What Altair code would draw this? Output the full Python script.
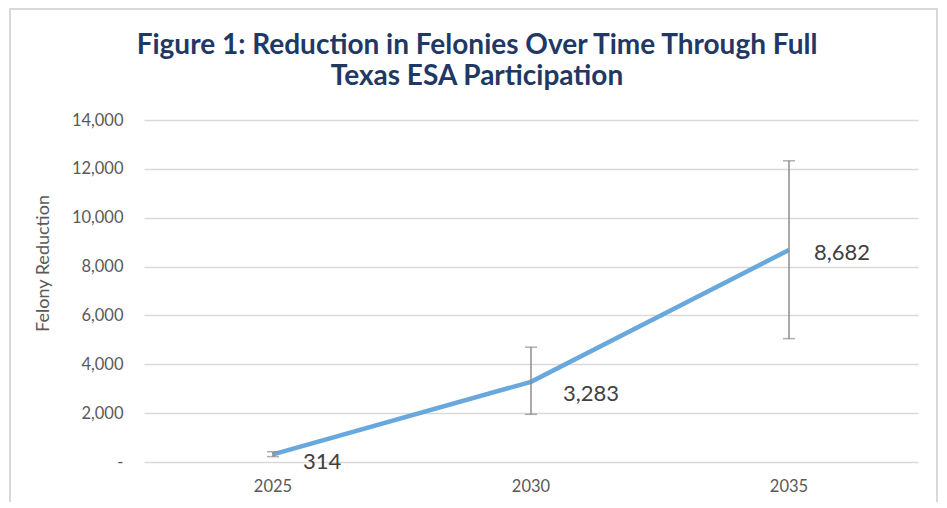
import altair as alt
import pandas as pd

years = ["2025", "2030", "2035"]
reduction = [314, 3283, 8682]
err_low = [220, 1950, 5050]
err_high = [420, 4700, 12330]
label_text = ["314", "3,283", "8,682"]

df = pd.DataFrame({
    "year": years,
    "value": reduction,
    "lo": err_low,
    "hi": err_high,
    "label": label_text,
})

W, H = 774, 342

x = alt.X("year:N", title=None, sort=years,
          scale=alt.Scale(paddingInner=0, paddingOuter=0),
          axis=alt.Axis(labelAngle=0, ticks=False, domain=False, grid=False,
                        labelPadding=16, labelFontSize=16.5, labelColor="#595959",
                        labelFont="Lato"))
yscale = alt.Scale(domain=[0, 14000], nice=False)

base = alt.Chart(df)

grid = base.mark_line(opacity=0).encode(
    x=x,
    y=alt.Y("value:Q", scale=yscale, title="Felony Reduction",
            axis=alt.Axis(values=list(range(0, 14001, 2000)),
                          labelExpr="datum.value == 0 ? '-' : format(datum.value, ',')",
                          ticks=False, domain=False, grid=True,
                          gridColor="#D9D9D9", gridWidth=1.5,
                          labelPadding=21, labelFontSize=16.5, labelColor="#595959",
                          labelFont="Lato",
                          titleFont="Lato", titleFontSize=18,
                          titleFontWeight="normal", titleColor="#595959",
                          titleAngle=-90, titleX=-101, titleY=143,
                          titleAlign="center", titleBaseline="middle")),
)

line = base.mark_line(color="#68A8DD", strokeWidth=4.5).encode(
    x=x, y=alt.Y("value:Q", scale=yscale)
)

rule = base.mark_rule(color="#8C8C8C", strokeWidth=1.5).encode(
    x=x, y=alt.Y("lo:Q", scale=yscale), y2="hi:Q"
)
cap_lo = base.mark_tick(color="#8C8C8C", thickness=1.5, size=12, orient="horizontal").encode(
    x=x, y=alt.Y("lo:Q", scale=yscale)
)
cap_hi = base.mark_tick(color="#8C8C8C", thickness=1.5, size=12, orient="horizontal").encode(
    x=x, y=alt.Y("hi:Q", scale=yscale)
)

label_offsets = {"2025": (30, 8), "2030": (32, 12), "2035": (25, 3)}
label_layers = []
for yr, (ddx, ddy) in label_offsets.items():
    label_layers.append(
        base.transform_filter(alt.datum.year == yr).mark_text(
            align="left", baseline="middle", dx=ddx, dy=ddy,
            font="Lato", fontSize=22, color="#404040"
        ).encode(x=x, y=alt.Y("value:Q", scale=yscale), text="label:N")
    )

frame = alt.Chart(pd.DataFrame({"a": [0]})).mark_rect(
    fill=None, stroke="#D9D9D9", strokeWidth=2, clip=False
).encode(
    x=alt.value(-134), x2=alt.value(793), y=alt.value(-111), y2=alt.value(600)
)

chart = alt.layer(frame, grid, line, rule, cap_lo, cap_hi, *label_layers).properties(
    width=W, height=H,
    background="white",
    autosize=alt.AutoSizeParams(type="none"),
    padding={"left": 136, "top": 112, "right": 21, "bottom": 40},
    title=alt.TitleParams(
        text=["Figure 1: Reduction in Felonies Over Time Through Full",
              "Texas ESA Participation"],
        font="Lato", fontSize=28, fontWeight="bold",
        color="#1F3864", anchor="middle", frame="group", dx=-54,
        baseline="bottom", offset=-111, lineHeight=31,
    ),
).configure_view(stroke="transparent", strokeWidth=0)

chart.save("out.html", embed_options={"renderer": "svg", "actions": False})
